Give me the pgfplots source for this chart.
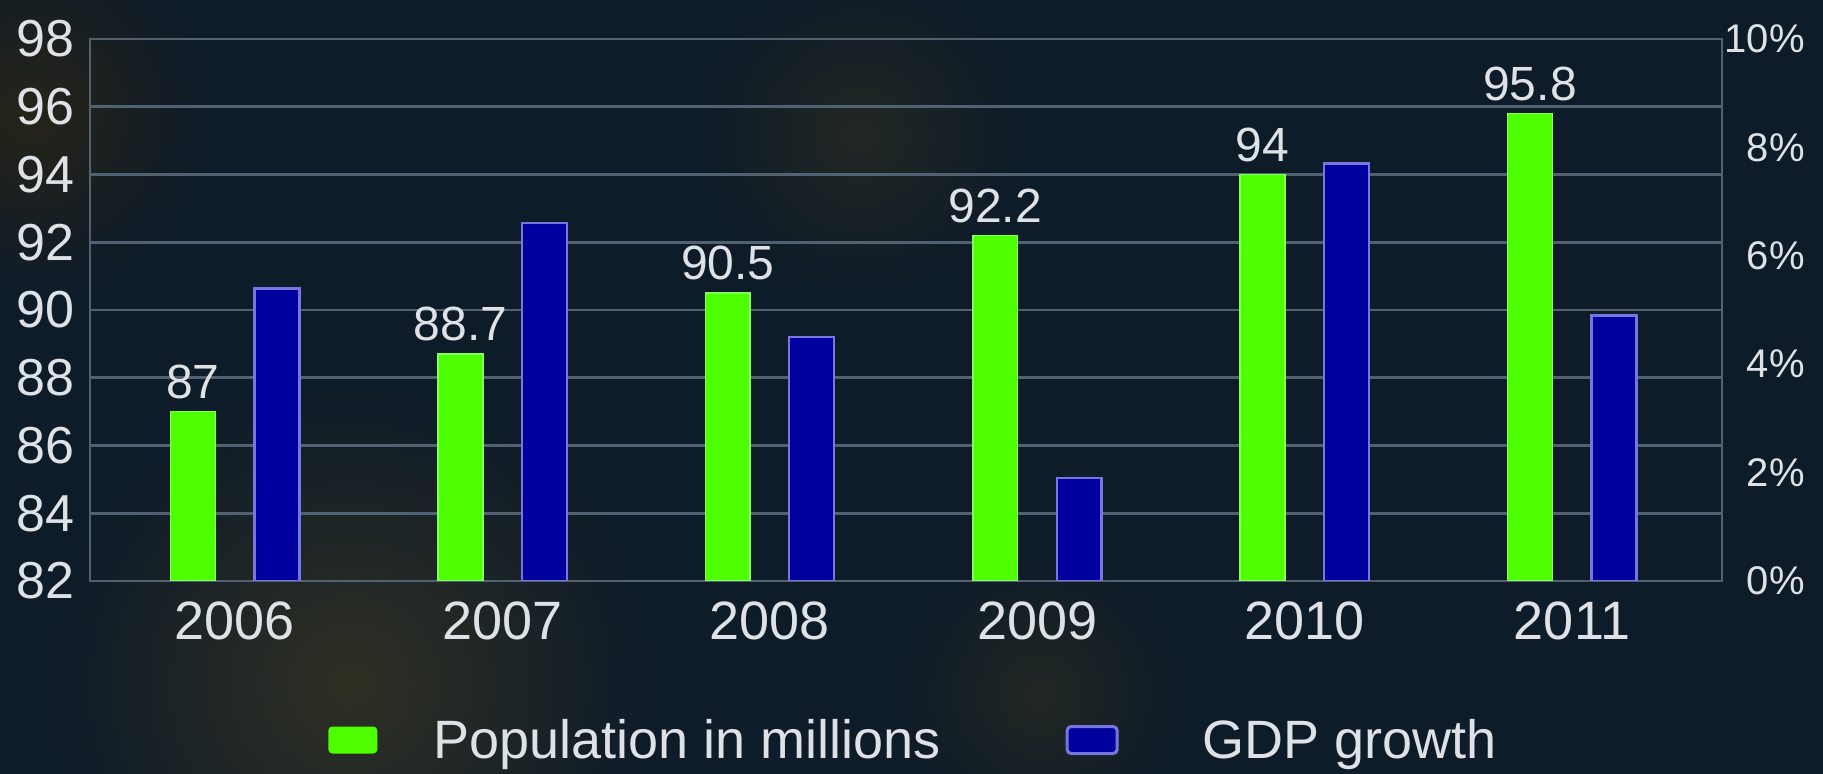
\documentclass[border=0pt]{standalone}
\usepackage{fontspec}
\setmainfont{Liberation Sans}
\usepackage{pgfplots}
\pgfplotsset{compat=1.18}
\definecolor{bgc}{RGB}{14,27,40}
\definecolor{gridc}{RGB}{82,97,114}
\definecolor{txtc}{RGB}{222,226,230}
\definecolor{greenc}{RGB}{77,255,0}
\definecolor{greenlc}{RGB}{130,255,90}
\definecolor{bluec}{RGB}{0,0,158}
\definecolor{bluelc}{RGB}{118,118,222}
\definecolor{blobA}{RGB}{46,48,35}
\definecolor{blobB}{RGB}{38,36,25}
\definecolor{blobC}{RGB}{33,39,35}
\pgfplotsset{/pgf/number format/assume math mode=true}
\begin{document}
\begin{tikzpicture}
\useasboundingbox (0,0) rectangle (911.5pt,387pt);
\begin{scope}
\clip (0,0) rectangle (911.5pt,387pt);
\fill[bgc] (0,0) rectangle (911.5pt,387pt);
\shade[inner color=blobA, outer color=bgc] (175pt,45pt) circle (150pt);
\shade[inner color=blobB, outer color=bgc] (15pt,330pt) circle (90pt);
\shade[inner color=blobC, outer color=bgc] (430pt,320pt) circle (80pt);
\shade[inner color=blobC, outer color=bgc] (520pt,40pt) circle (70pt);
\end{scope}
\begin{axis}[
  at={(45pt,96.5pt)}, anchor=south west, scale only axis,
  width=816pt, height=271pt,
  xmin=-0.542, xmax=5.561, ymin=82, ymax=98,
  xtick={0,1,2,3,4,5},
  xticklabels={2006,2007,2008,2009,2010,2011},
  ytick={82,84,86,88,90,92,94,96,98},
  major tick length=0pt,
  ymajorgrids, grid style={gridc, line width=1.3pt},
  axis line style={gridc, line width=1.3pt},
  tick label style={text=txtc},
  xticklabel style={font=\fontsize{27}{30}\selectfont, inner sep=0pt, yshift=-10pt},
  yticklabel style={font=\fontsize{26}{30}\selectfont, anchor=east, inner sep=0pt, xshift=-7.5pt},
]
\addplot[ybar, bar width=0.168, bar shift=-0.157, fill=greenc, draw=greenlc, line width=0.8pt,
  nodes near coords,
  nodes near coords style={font=\fontsize{24}{28}\selectfont, text=txtc, inner sep=0pt, anchor=south, xshift=-21pt, yshift=6pt}]
  coordinates {(0,87) (1,88.7) (2,90.5) (3,92.2) (4,94) (5,95.8)};
\end{axis}
\begin{axis}[
  at={(45pt,96.5pt)}, anchor=south west, scale only axis,
  width=816pt, height=271pt,
  xmin=-0.542, xmax=5.561, ymin=0, ymax=10,
  axis y line*=right, axis x line=none,
  ytick={0,2,4,6,8,10},
  yticklabel={\pgfmathprintnumber{\tick}\%},
  major tick length=0pt,
  axis line style={gridc, line width=1.3pt},
  tick label style={text=txtc},
  yticklabel style={font=\fontsize{20}{24}\selectfont, anchor=east, inner sep=0pt, xshift=41.5pt},
  legend columns=2,
  legend style={at={(axis description cs:0.1458,-0.2934)}, anchor=west,
    draw=none, fill=none, inner sep=0pt, text=txtc,
    font=\fontsize{27}{31}\selectfont,
    nodes={inner sep=0pt},
    /tikz/every even column/.append style={column sep=62.5pt}},
]
\addlegendimage{legend image code/.code={\fill[greenc, draw=none, rounded corners=2pt] (0pt,-6.75pt) rectangle (24.5pt,6.75pt); \path[draw=none, fill=none] (0pt,0pt) -- (52.5pt,0pt);}}
\addlegendentry{Population in millions}
\addplot[ybar, bar width=0.168, bar shift=0.157, fill=bluec, draw=bluelc, line width=1.2pt,
  legend image code/.code={\draw[bluelc, fill=bluec, line width=1.5pt, rounded corners=2pt] (0pt,-6.75pt) rectangle (25pt,6.75pt); \path[draw=none, fill=none] (0pt,0pt) -- (67.5pt,0pt);}]
  coordinates {(0,5.4) (1,6.6) (2,4.5) (3,1.9) (4,7.7) (5,4.9)};
\addlegendentry{GDP growth}
\end{axis}
\end{tikzpicture}
\end{document}
